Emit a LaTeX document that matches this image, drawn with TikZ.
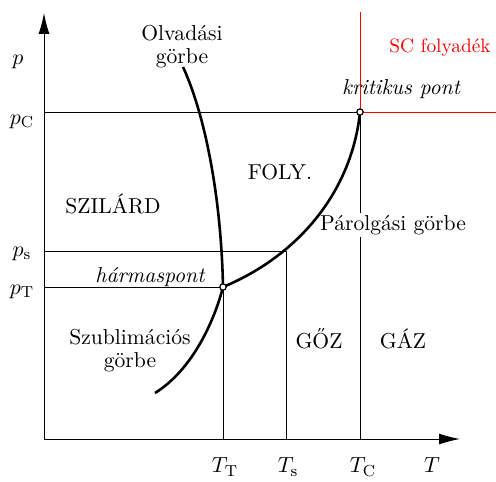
\documentclass[tikz,border=0pt]{standalone}
\usepackage{tikz}
\usetikzlibrary{arrows.meta, positioning}
\definecolor{scred}{RGB}{255, 0, 0}

\begin{document}
\begin{tikzpicture}[x=0.5pt, y=-0.5pt, font=\fontsize{10.8}{11.5}\selectfont,
    thinline/.style={line width=0.5pt},
    curve/.style={line width=1.3pt},
    phasept/.style={circle, draw, fill=white, inner sep=0pt, minimum size=3.2pt, line width=0.6pt},
    axis/.style={thinline, -{Latex[length=10.5pt, width=5.5pt]}}]
  \useasboundingbox (0,0) rectangle (496,481);

  \coordinate (O) at (44,439);
  \coordinate (ytop) at (44,13);
  \coordinate (xend) at (460,439);
  \coordinate (C) at (360,112);
  \coordinate (H) at (223,287);
  \coordinate (S) at (286,251);
  \coordinate (redtop) at (360,12);
  \coordinate (redend) at (496,112);

  \draw[axis] (O) -- (ytop);
  \draw[axis] (O) -- (xend);

  \draw[thinline] (O |- C) -- (C);
  \draw[thinline] (O |- S) -- (S);
  \draw[thinline] (O |- H) -- (H);
  \draw[thinline] (C) -- (C |- O);
  \draw[thinline] (S) -- (S |- O);
  \draw[thinline] (H) -- (H |- O);
  \draw[thinline, scred] (C) -- (redend);
  \draw[thinline, scred] (C) -- (redtop);

  \node[fill=white, inner sep=1pt] (evap) at (393,225) {Párolgási görbe};

  \draw[curve] (183,67) .. controls (203,110) and (221,190) .. (H);
  \draw[curve] (H) .. controls (214,322) and (192,370) .. (155,393);
  \draw[curve] (H) .. controls (300,255) and (352,190) .. (C);

  \node[phasept] (crit) at (C) {};
  \node[phasept] (triple) at (H) {};

  \node (plab) at (18,62) {$p$};
  \node (pC) at (22,122) {$p_{\mathrm{C}}$};
  \node (ps) at (22,254) {$p_{\mathrm{s}}$};
  \node (pT) at (22,292) {$p_{\mathrm{T}}$};
  \node (TT) at (225,467) {$T_{\mathrm{T}}$};
  \node (Ts) at (288,467) {$T_{\mathrm{s}}$};
  \node (TC) at (363,467) {$T_{\mathrm{C}}$};
  \node (Tlab) at (432,465) {$T$};

  \node[align=center] (melt) at (182,47) {Olvadási\\görbe};
  \node[align=center] (subl) at (130,351) {Szublimációs\\görbe};
  \node (solid) at (113,204) {SZILÁRD};
  \node (liquid) at (280,172) {FOLY.};
  \node (vapour) at (319,339) {GŐZ};
  \node (gas) at (403,339) {GÁZ};
  \node[font=\fontsize{10.8}{11.5}\selectfont\itshape] (critlab) at (401,89) {kritikus pont};
  \node[font=\fontsize{10.8}{11.5}\selectfont\itshape] (triplelab) at (150,277) {hármaspont};
  \node[scred, font=\fontsize{9.7}{11}\selectfont] (sc) at (440,48) {SC folyadék};
\end{tikzpicture}
\end{document}
